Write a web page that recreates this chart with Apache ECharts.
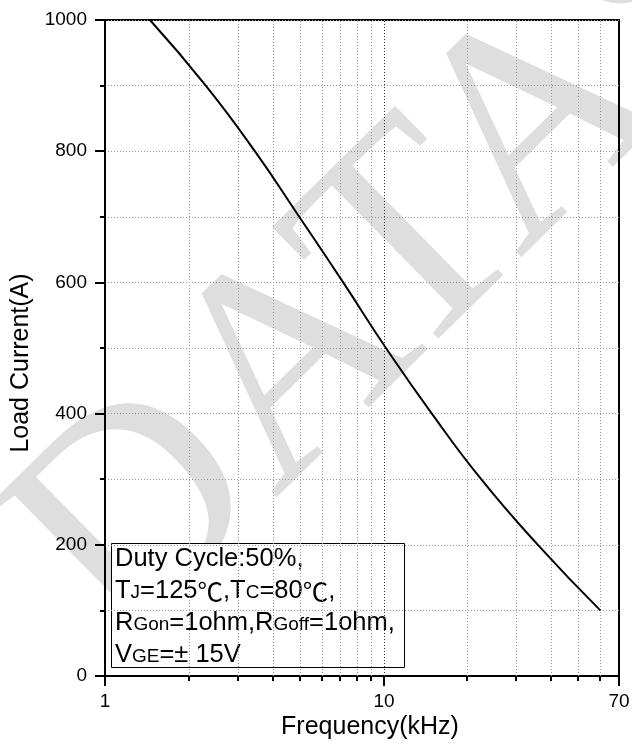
<!DOCTYPE html>
<html>
<head>
<meta charset="utf-8">
<script src="https://cdn.jsdelivr.net/npm/echarts@6/dist/echarts.min.js"></script>
<style>
  html, body { margin: 0; padding: 0; background: #fff; }
  #chart { width: 632px; height: 747px; }
</style>
</head>
<body>
<div id="chart"></div>
<script>
// Load current vs. switching frequency
const frequency   = [1.45, 2.30, 3.45, 4.98, 7.16, 10.2, 14.9, 22.4, 35.8, 60];
const loadCurrent = [1000, 900, 800, 700, 600, 500, 400, 300, 200, 100];

// Axis ticks
const xLabelTicks = [1, 10, 70];
const xMinorTicks = [2, 3, 4, 5, 6, 7, 8, 9, 20, 30, 40, 50, 60];
const xRange = [1, 70];
const yRange = [0, 1000];
const yInterval = 200;

// Condition note
const noteLines = [
  '{n|Duty Cycle:50%,}',
  '{n|T}{s|J}{n|=125}{c|℃}{n|,T}{s|C}{n|=80}{c|℃}{n|,}',
  '{n|R}{s|Gon}{n|=1ohm,R}{s|Goff}{n|=1ohm,}',
  '{n|V}{s|GE}{n|=± 15V}'
];

const FONT = 'Arial, "Liberation Sans", sans-serif';
const CJK_FONT = '"Noto Sans CJK SC", "Noto Sans CJK JP", sans-serif';
const gridDots = { color: '#999', width: 1, type: [1, 2] };

const xTickData = xLabelTicks.map(v => [v, 1]).concat(xMinorTicks.map(v => [v, 0]));

// Log-axis decorations: dotted grid lines, outward ticks and labels
function renderFreqAxis(params, api) {
  const f = api.value(0);
  const major = api.value(1) === 1;
  const base = api.coord([f, yRange[0]]);
  const top = api.coord([f, yRange[1]]);
  const px = Math.round(base[0]);
  const children = [];
  if (f > xRange[0] && f < xRange[1]) {
    children.push({
      type: 'line',
      shape: { x1: px + 0.5, y1: base[1], x2: px + 0.5, y2: top[1] },
      style: { stroke: f === 10 ? '#333' : '#999', lineWidth: 1, lineDash: [1, 2] }
    });
  }
  children.push({
    type: 'line',
    shape: { x1: px, y1: base[1], x2: px, y2: base[1] + (major ? 10 : 5) },
    style: { stroke: '#000', lineWidth: 2 }
  });
  if (major) {
    children.push({
      type: 'text',
      x: px, y: base[1] + 16,
      style: { text: String(f), fill: '#000', font: '19px ' + FONT, align: 'center', verticalAlign: 'top' }
    });
  }
  return { type: 'group', children };
}

const chart = echarts.init(document.getElementById('chart'));
chart.setOption({
  backgroundColor: '#fff',
  animation: false,
  grid: {
    left: 105, right: 13, top: 20, bottom: 71,
    show: true, borderColor: '#000', borderWidth: 2,
    containLabel: false, outerBoundsMode: 'none'
  },
  xAxis: {
    type: 'log', logBase: 10, min: xRange[0], max: xRange[1],
    name: 'Frequency(kHz)', nameLocation: 'middle', nameGap: 39, nameMoveOverlap: false,
    nameTextStyle: { fontSize: 25, fontFamily: FONT, color: '#000', padding: [0, 0, 0, 16] },
    axisLine: { show: true, lineStyle: { color: '#000', width: 2 } },
    axisTick: { show: false },
    axisLabel: { show: false },
    splitLine: { show: false },
    minorTick: { show: false },
    minorSplitLine: { show: false }
  },
  yAxis: {
    type: 'value', min: yRange[0], max: yRange[1], interval: yInterval,
    name: 'Load Current(A)', nameLocation: 'middle', nameGap: 71, nameMoveOverlap: false,
    nameTextStyle: { fontSize: 25, fontFamily: FONT, color: '#000', padding: [0, 30, 0, 0] },
    axisLine: { show: true, lineStyle: { color: '#000', width: 2 } },
    axisTick: { show: true, length: 10, lineStyle: { color: '#000', width: 2 } },
    minorTick: { show: true, splitNumber: 2, length: 5, lineStyle: { color: '#000', width: 2 } },
    axisLabel: { fontSize: 19, fontFamily: FONT, color: '#000', margin: 18, formatter: v => String(v) },
    splitLine: { show: true, lineStyle: gridDots },
    minorSplitLine: { show: true, lineStyle: gridDots }
  },
  series: [
    {
      type: 'custom',
      name: 'frequency axis',
      renderItem: renderFreqAxis,
      data: xTickData,
      encode: { x: 0 },
      clip: false,
      silent: true,
      z: 1
    },
    {
      type: 'line',
      name: 'Load Current',
      data: frequency.map((f, i) => [f, loadCurrent[i]]),
      showSymbol: false,
      smooth: 0.5,
      lineStyle: { color: '#000', width: 2 },
      itemStyle: { color: '#000' },
      z: 3
    }
  ],
  graphic: [
    {
      type: 'text',
      z: -10,
      silent: true,
      x: 65, y: 595,
      rotation: 44.5 * Math.PI / 180,
      style: {
        text: 'DATASHEET',
        font: '300px "Liberation Serif", "Times New Roman", serif',
        fill: '#dedede',
        align: 'left',
        verticalAlign: 'middle'
      }
    },
    {
      type: 'group',
      z: 10,
      children: [
        {
          type: 'rect',
          shape: { x: 111.5, y: 543.5, width: 293, height: 124 },
          style: { fill: '#fff', stroke: '#000', lineWidth: 1 }
        },
        {
          type: 'text',
          x: 115, y: 540,
          style: {
            text: noteLines.join('\n'),
            align: 'left',
            verticalAlign: 'top',
            rich: {
              n: { fontSize: 25.5, fontFamily: FONT, fill: '#000', lineHeight: 32, verticalAlign: 'bottom' },
              c: { fontSize: 25.5, fontFamily: CJK_FONT, fill: '#000', lineHeight: 32, verticalAlign: 'bottom' },
              s: { fontSize: 19, fontFamily: FONT, fill: '#000', lineHeight: 32, verticalAlign: 'bottom', padding: [0, 0, 2, 0] }
            }
          }
        }
      ]
    }
  ]
});
</script>
</body>
</html>
